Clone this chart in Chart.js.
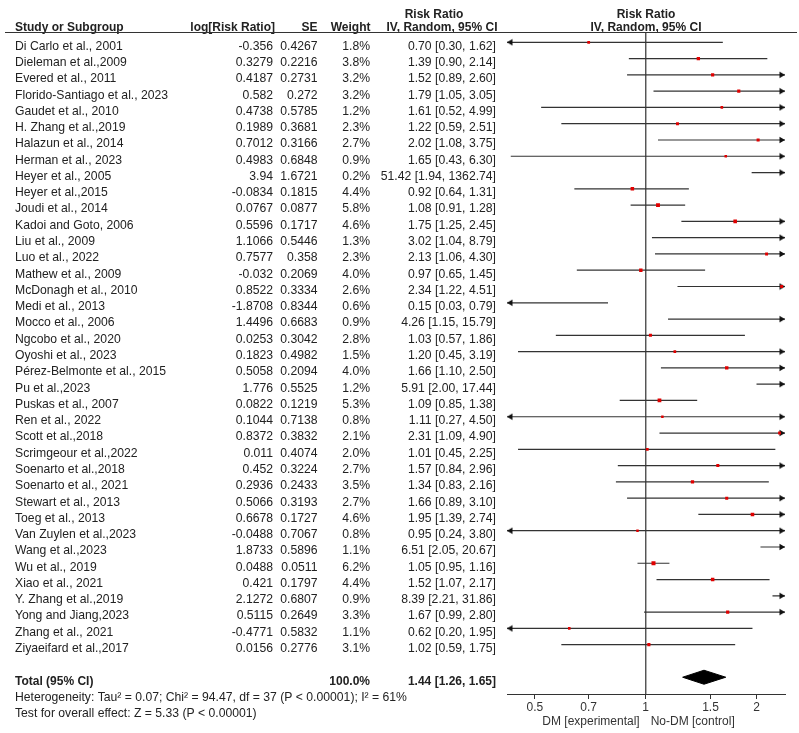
<!DOCTYPE html>
<html>
<head>
<meta charset="utf-8">
<script src="https://cdn.jsdelivr.net/npm/chart.js@4.4.1/dist/chart.umd.min.js"></script>
<style>
  html, body { margin: 0; padding: 0; background: #fff; }
  #forest { display: block; }
</style>
</head>
<body>
<canvas id="forest" width="799" height="733"></canvas>
<script>
const studies = [
  "Di Carlo et al., 2001", "Dieleman et al.,2009", "Evered et al., 2011", "Florido-Santiago et al., 2023",
  "Gaudet et al., 2010", "H. Zhang et al.,2019", "Halazun et al., 2014", "Herman et al., 2023",
  "Heyer et al., 2005", "Heyer et al.,2015", "Joudi et al., 2014", "Kadoi and Goto, 2006",
  "Liu et al., 2009", "Luo et al., 2022", "Mathew et al., 2009", "McDonagh et al., 2010",
  "Medi et al., 2013", "Mocco et al., 2006", "Ngcobo et al., 2020", "Oyoshi et al., 2023",
  "Pérez-Belmonte et al., 2015", "Pu et al.,2023", "Puskas et al., 2007", "Ren et al., 2022",
  "Scott et al.,2018", "Scrimgeour et al.,2022", "Soenarto et al.,2018", "Soenarto et al., 2021",
  "Stewart et al., 2013", "Toeg et al., 2013", "Van Zuylen et al.,2023", "Wang et al.,2023",
  "Wu et al., 2019", "Xiao et al., 2021", "Y. Zhang et al.,2019", "Yong and Jiang,2023",
  "Zhang et al., 2021", "Ziyaeifard et al.,2017"
];
const logRR = [
  -0.356, 0.3279, 0.4187, 0.582, 0.4738, 0.1989, 0.7012, 0.4983, 3.94, -0.0834,
  0.0767, 0.5596, 1.1066, 0.7577, -0.032, 0.8522, -1.8708, 1.4496, 0.0253, 0.1823,
  0.5058, 1.776, 0.0822, 0.1044, 0.8372, 0.011, 0.452, 0.2936, 0.5066, 0.6678,
  -0.0488, 1.8733, 0.0488, 0.421, 2.1272, 0.5115, -0.4771, 0.0156
];
const se = [
  0.4267, 0.2216, 0.2731, 0.272, 0.5785, 0.3681, 0.3166, 0.6848, 1.6721, 0.1815,
  0.0877, 0.1717, 0.5446, 0.358, 0.2069, 0.3334, 0.8344, 0.6683, 0.3042, 0.4982,
  0.2094, 0.5525, 0.1219, 0.7138, 0.3832, 0.4074, 0.3224, 0.2433, 0.3193, 0.1727,
  0.7067, 0.5896, 0.0511, 0.1797, 0.6807, 0.2649, 0.5832, 0.2776
];
const weights = [
  1.8, 3.8, 3.2, 3.2, 1.2, 2.3, 2.7, 0.9, 0.2, 4.4,
  5.8, 4.6, 1.3, 2.3, 4.0, 2.6, 0.6, 0.9, 2.8, 1.5,
  4.0, 1.2, 5.3, 0.8, 2.1, 2.0, 2.7, 3.5, 2.7, 4.6,
  0.8, 1.1, 6.2, 4.4, 0.9, 3.3, 1.1, 3.1
];
const rr = [
  0.70, 1.39, 1.52, 1.79, 1.61, 1.22, 2.02, 1.65, 51.42, 0.92,
  1.08, 1.75, 3.02, 2.13, 0.97, 2.34, 0.15, 4.26, 1.03, 1.20,
  1.66, 5.91, 1.09, 1.11, 2.31, 1.01, 1.57, 1.34, 1.66, 1.95,
  0.95, 6.51, 1.05, 1.52, 8.39, 1.67, 0.62, 1.02
];
const ciLow = [
  0.30, 0.90, 0.89, 1.05, 0.52, 0.59, 1.08, 0.43, 1.94, 0.64,
  0.91, 1.25, 1.04, 1.06, 0.65, 1.22, 0.03, 1.15, 0.57, 0.45,
  1.10, 2.00, 0.85, 0.27, 1.09, 0.45, 0.84, 0.83, 0.89, 1.39,
  0.24, 2.05, 0.95, 1.07, 2.21, 0.99, 0.20, 0.59
];
const ciHigh = [
  1.62, 2.14, 2.60, 3.05, 4.99, 2.51, 3.75, 6.30, 1362.74, 1.31,
  1.28, 2.45, 8.79, 4.30, 1.45, 4.51, 0.79, 15.79, 1.86, 3.19,
  2.50, 17.44, 1.38, 4.50, 4.90, 2.25, 2.96, 2.16, 3.10, 2.74,
  3.80, 20.67, 1.16, 2.17, 31.86, 2.80, 1.95, 1.75
];
const totalRR = 1.44;
const totalLow = 1.26;
const totalHigh = 1.65;
const totalWeight = "100.0%";
const heterogeneity = "Heterogeneity: Tau\u00b2 = 0.07; Chi\u00b2 = 94.47, df = 37 (P < 0.00001); I\u00b2 = 61%";
const overallTest = "Test for overall effect: Z = 5.33 (P < 0.00001)";
const xTicks = [0.5, 0.7, 1, 1.5, 2];
const xMin = 0.42;
const xMax = 2.39;

const totalRow = studies.length + 1;
const yMin = -0.614;
const yMax = 40.03;
const FONT = '"Liberation Sans", Arial, sans-serif';

Chart.defaults.font.family = FONT;
Chart.defaults.font.size = 12;

function arrowHead(dir) {
  const c = document.createElement("canvas");
  c.width = 16;
  c.height = 8;
  const g = c.getContext("2d");
  g.fillStyle = "#111";
  g.beginPath();
  if (dir > 0) {
    g.moveTo(8, 4); g.lineTo(2.5, 0.8); g.lineTo(2.5, 7.2);
  } else {
    g.moveTo(8, 4); g.lineTo(13.5, 0.8); g.lineTo(13.5, 7.2);
  }
  g.closePath();
  g.fill();
  return c;
}
const leftArrow = arrowHead(-1);
const rightArrow = arrowHead(1);

const ciSets = studies.map((s, i) => ({
  label: s,
  data: [
    { x: Math.max(ciLow[i], xMin), y: i },
    { x: Math.min(ciHigh[i], xMax), y: i },
  ],
  showLine: true,
  borderColor: "#333",
  borderWidth: 1.2,
  pointStyle: [leftArrow, rightArrow],
  pointRadius: [ciLow[i] < xMin ? 3 : 0, ciHigh[i] > xMax ? 3 : 0],
}));

const tablePlugin = {
  id: "table",
  afterDraw(chart) {
    const ctx = chart.ctx;
    const y = chart.scales.y;
    const row = (i) => y.getPixelForValue(i) + 4;
    const bold = "bold 12px " + FONT;
    const normal = "12.2px " + FONT;

    ctx.save();
    ctx.fillStyle = "#222";

    // header
    ctx.font = bold;
    ctx.textBaseline = "alphabetic";
    ctx.textAlign = "left";
    ctx.fillText("Study or Subgroup", 15, 31);
    ctx.textAlign = "right";
    ctx.fillText("log[Risk Ratio]", 275, 31);
    ctx.fillText("SE", 317.5, 31);
    ctx.fillText("Weight", 370.5, 31);
    ctx.textAlign = "center";
    ctx.fillText("Risk Ratio", 434, 17.5);
    ctx.fillText("IV, Random, 95% CI", 442, 31);
    ctx.fillText("Risk Ratio", 646, 17.5);
    ctx.fillText("IV, Random, 95% CI", 646, 31);

    ctx.strokeStyle = "#333";
    ctx.lineWidth = 1;
    ctx.beginPath();
    ctx.moveTo(5, 32.5);
    ctx.lineTo(797, 32.5);
    ctx.stroke();

    // study rows
    ctx.font = normal;
    ctx.textBaseline = "middle";
    studies.forEach((s, i) => {
      const py = row(i);
      ctx.textAlign = "left";
      ctx.fillText(s, 15, py);
      ctx.textAlign = "right";
      ctx.fillText(String(logRR[i]), 273, py);
      ctx.fillText(String(se[i]), 317.5, py);
      ctx.fillText(weights[i].toFixed(1) + "%", 370, py);
      ctx.fillText(rr[i].toFixed(2) + " [" + ciLow[i].toFixed(2) + ", " + ciHigh[i].toFixed(2) + "]", 496, py);
    });

    // total
    ctx.font = bold;
    ctx.textAlign = "left";
    ctx.fillText("Total (95% CI)", 15, row(totalRow));
    ctx.textAlign = "right";
    ctx.fillText(totalWeight, 370, row(totalRow));
    ctx.fillText(totalRR.toFixed(2) + " [" + totalLow.toFixed(2) + ", " + totalHigh.toFixed(2) + "]", 496, row(totalRow));

    ctx.font = normal;
    ctx.textAlign = "left";
    ctx.fillText(heterogeneity, 15, row(totalRow + 1));
    ctx.fillText(overallTest, 15, row(totalRow + 2));

    // favours labels
    const x = chart.scales.x;
    const px1 = x.getPixelForValue(1);
    ctx.font = "12px " + FONT;
    ctx.fillStyle = "#333";
    ctx.textAlign = "right";
    ctx.fillText("DM [experimental]", px1 - 6, 721.5);
    ctx.textAlign = "left";
    ctx.fillText("No-DM [control]", px1 + 5, 721.5);
    ctx.restore();
  },
};

new Chart(document.getElementById("forest"), {
  type: "scatter",
  data: {
    datasets: [
      {
        label: "Risk Ratio",
        data: rr.map((v, i) => ({ x: v, y: i })),
        pointStyle: "rect",
        pointRadius: weights.map((w) => 1.6 + w * 0.2),
        pointBackgroundColor: "#e00000",
        pointBorderWidth: 0,
      },
      {
        label: "Total",
        data: [
          { x: totalLow, y: totalRow },
          { x: totalRR, y: totalRow - 0.43 },
          { x: totalHigh, y: totalRow },
          { x: totalRR, y: totalRow + 0.43 },
          { x: totalLow, y: totalRow },
        ],
        showLine: true,
        fill: "shape",
        backgroundColor: "#000",
        borderColor: "#000",
        borderWidth: 1,
        pointRadius: 0,
      },
      ...ciSets,
      {
        label: "No effect",
        data: [{ x: 1, y: yMin }, { x: 1, y: yMax }],
        showLine: true,
        borderColor: "#555",
        borderWidth: 1,
        pointRadius: 0,
      },
    ],
  },
  options: {
    responsive: false,
    animation: false,
    events: [],
    layout: { padding: { left: 507, right: 14, top: 32.3, bottom: 0 } },
    plugins: { legend: { display: false }, tooltip: { enabled: false } },
    scales: {
      x: {
        type: "logarithmic",
        min: xMin,
        max: xMax,
        afterBuildTicks: (axis) => { axis.ticks = xTicks.map((v) => ({ value: v })); },
        afterFit: (axis) => { axis.height = 39; },
        grid: { drawOnChartArea: false, drawTicks: true, tickLength: 5, color: "#333" },
        border: { color: "#333", width: 1 },
        ticks: { callback: (v) => String(v), color: "#333", padding: 1, autoSkip: false, maxRotation: 0 },
      },
      y: { type: "linear", display: false, reverse: true, min: yMin, max: yMax },
    },
  },
  plugins: [tablePlugin],
});
</script>
</body>
</html>
